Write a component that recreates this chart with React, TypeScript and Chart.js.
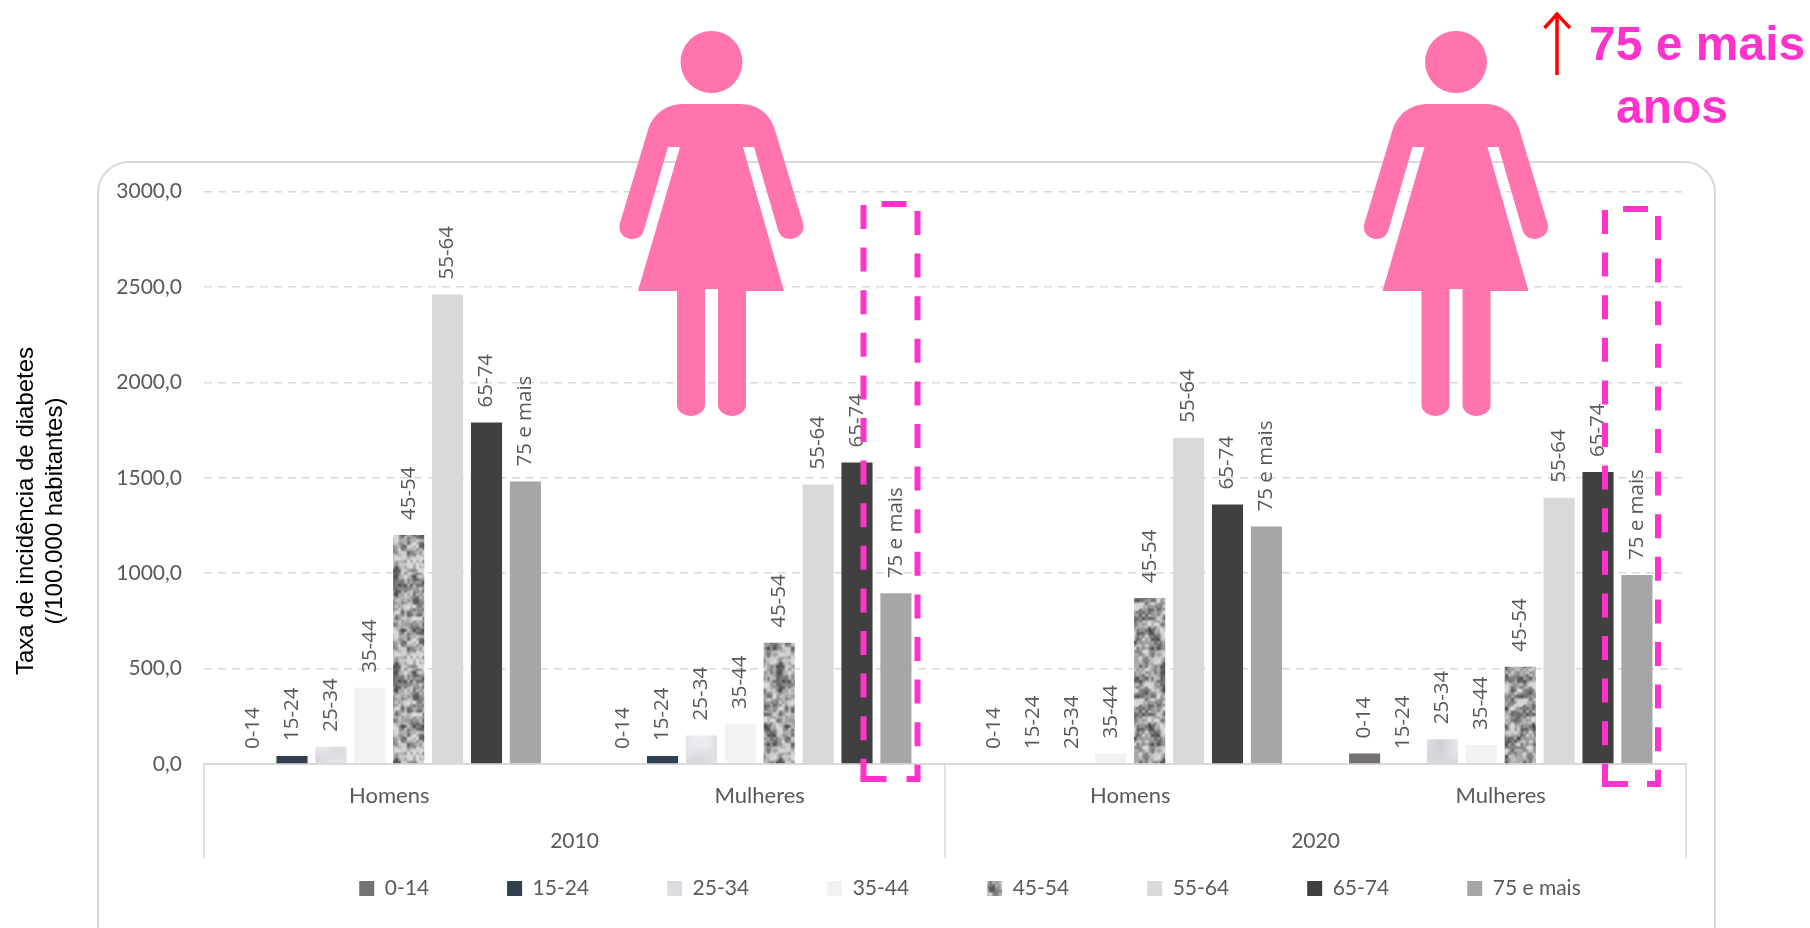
import React, { useEffect, useRef } from "react";
import { Chart, registerables } from "chart.js";

Chart.register(...registerables);

const subgroups = ["Homens", "Mulheres", "Homens", "Mulheres"];
const years = ["2010", "2020"];
const yTicks = [0, 500, 1000, 1500, 2000, 2500, 3000];

const age0014 = [0, 0, 0, 55];
const age1524 = [42, 42, 0, 0];
const age2534 = [90, 150, 0, 130];
const age3544 = [400, 210, 55, 100];
const age4554 = [1200, 635, 870, 510];
const age5564 = [2460, 1465, 1710, 1395];
const age6574 = [1790, 1580, 1360, 1530];
const age7500 = [1480, 895, 1245, 990];

const AXIS = "#d9d9d9";
const TEXT = "#595959";
const PINK = "#ff33cc";
const FIGURE = "#ff74ac";
const SANS = "'Liberation Sans', Arial, sans-serif";

function hash(x: number, y: number, seed: number) {
  const s = Math.sin(x * 127.1 + y * 311.7 + seed * 74.7) * 43758.5453;
  return s - Math.floor(s);
}

function smooth(x: number, y: number, cell: number, period: number, seed: number) {
  const gx = x / cell;
  const gy = y / cell;
  const ix = Math.floor(gx);
  const iy = Math.floor(gy);
  const fx = gx - ix;
  const fy = gy - iy;
  const ux = fx * fx * (3 - 2 * fx);
  const uy = fy * fy * (3 - 2 * fy);
  const w = (a: number) => ((a % period) + period) % period;
  const a = hash(w(ix), w(iy), seed);
  const b = hash(w(ix + 1), w(iy), seed);
  const c = hash(w(ix), w(iy + 1), seed);
  const d = hash(w(ix + 1), w(iy + 1), seed);
  return (a * (1 - ux) + b * ux) * (1 - uy) + (c * (1 - ux) + d * ux) * uy;
}

function texture(kind: "dark" | "light") {
  const size = 96;
  const c = document.createElement("canvas");
  c.width = size;
  c.height = size;
  const ctx = c.getContext("2d")!;
  const img = ctx.createImageData(size, size);
  for (let y = 0; y < size; y++) {
    for (let x = 0; x < size; x++) {
      let v: number;
      if (kind === "dark") {
        const n = 0.6 * smooth(x, y, 6, 16, 1) + 0.4 * smooth(x, y, 3, 32, 2);
        v = Math.max(75, Math.min(215, 158 + (n - 0.5) * 230));
      } else {
        const n = smooth(x, y, 24, 4, 3) * 0.7 + smooth(x, y, 12, 8, 4) * 0.3;
        v = 228 + (n - 0.5) * 50;
      }
      const i = (y * size + x) * 4;
      img.data[i] = v;
      img.data[i + 1] = v;
      img.data[i + 2] = kind === "dark" ? v + 2 : v + 4;
      img.data[i + 3] = 255;
    }
  }
  ctx.putImageData(img, 0, 0);
  return ctx.createPattern(c, "repeat")!;
}

const barLabels = {
  id: "barLabels",
  afterDatasetsDraw(chart: any) {
    const { ctx } = chart;
    ctx.save();
    ctx.font = "20.5px 'Open Sans', sans-serif";
    ctx.fillStyle = TEXT;
    ctx.textAlign = "left";
    ctx.textBaseline = "middle";
    chart.data.datasets.forEach((ds: any, i: number) => {
      chart.getDatasetMeta(i).data.forEach((el: any) => {
        ctx.save();
        ctx.translate(el.x, el.y - 15);
        ctx.rotate(-Math.PI / 2);
        ctx.fillText(ds.label, 0, 0);
        ctx.restore();
      });
    });
    ctx.restore();
  },
};

const separators = {
  id: "separators",
  afterDraw(chart: any) {
    const x2 = chart.scales.x2;
    const { ctx } = chart;
    const top = chart.chartArea.bottom;
    const mid = (x2.left + x2.right) / 2;
    ctx.save();
    ctx.strokeStyle = AXIS;
    ctx.lineWidth = 1.5;
    [x2.left, mid, x2.right].forEach((x: number) => {
      ctx.beginPath();
      ctx.moveTo(x, top);
      ctx.lineTo(x, x2.bottom);
      ctx.stroke();
    });
    ctx.restore();
  },
};

const legendPlace = {
  id: "legendPlace",
  beforeLayout(chart: any) {
    const l = chart.legend;
    if (l && !l.__flat) {
      const fit = l.fit;
      l.fit = function () {
        fit.call(this);
        this.height = 0;
      };
      l.__flat = true;
    }
  },
  afterLayout(chart: any) {
    const l = chart.legend;
    if (!l) return;
    const shift = 65;
    l.left = shift;
    l.right = chart.width + shift;
    l.top = 889 - 11 - l.options.labels.padding;
    l.bottom = chart.height;
    l.width = chart.width;
  },
};

function Figure({ cx }: { cx: number }) {
  const p = (dx: number, y: number) => `${cx + dx} ${y}`;
  const d = [
    `M${p(-28, 104)}`,
    `L${p(28, 104)}`,
    `C${p(46, 104)} ${p(58, 114)} ${p(63, 130)}`,
    `L${p(91, 223)}`,
    `C${p(94, 234)} ${p(84, 239)} ${p(78, 239)}`,
    `C${p(72, 239)} ${p(68, 236)} ${p(66, 230)}`,
    `L${p(42, 147)}`,
    `L${p(31, 147)}`,
    `L${p(72, 291)}`,
    `L${p(34, 291)}`,
    `L${p(34, 405)}`,
    `C${p(34, 412)} ${p(26, 416)} ${p(20, 416)}`,
    `C${p(14, 416)} ${p(6, 412)} ${p(6, 405)}`,
    `L${p(6, 289)}`,
    `L${p(-7, 289)}`,
    `L${p(-7, 405)}`,
    `C${p(-7, 412)} ${p(-15, 416)} ${p(-21, 416)}`,
    `C${p(-27, 416)} ${p(-35, 412)} ${p(-35, 405)}`,
    `L${p(-35, 291)}`,
    `L${p(-74, 291)}`,
    `L${p(-32, 147)}`,
    `L${p(-44, 147)}`,
    `L${p(-68, 230)}`,
    `C${p(-70, 236)} ${p(-74, 239)} ${p(-80, 239)}`,
    `C${p(-86, 239)} ${p(-95, 234)} ${p(-92, 223)}`,
    `L${p(-64, 130)}`,
    `C${p(-59, 114)} ${p(-46, 104)} ${p(-28, 104)}`,
    "Z",
  ].join(" ");
  return (
    <g fill={FIGURE}>
      <circle cx={cx - 0.5} cy={62} r={31} />
      <path d={d} />
    </g>
  );
}

function Box({ x, y, w, h }: { x: number; y: number; w: number; h: number }) {
  return (
    <g fill="none" stroke={PINK} strokeWidth={6}>
      <path d={`M${x} ${y + 1} V${y + h}`} strokeDasharray="24 18.6" />
      <path d={`M${x + w} ${y + 7} V${y + h}`} strokeDasharray="24 18.6" />
      <path d={`M${x + 18} ${y} H${x + 43}`} />
      <path d={`M${x - 3} ${y + h} H${x + 23}`} />
      <path d={`M${x + w - 11} ${y + h} H${x + w + 3}`} />
    </g>
  );
}

export default function App() {
  const ref = useRef<HTMLCanvasElement>(null);

  useEffect(() => {
    const dark = texture("dark");
    const light = texture("light");
    const series: [string, number[], any][] = [
      ["0-14", age0014, "#767171"],
      ["15-24", age1524, "#323f4f"],
      ["25-34", age2534, light],
      ["35-44", age3544, "#f2f2f2"],
      ["45-54", age4554, dark],
      ["55-64", age5564, "#d9d9d9"],
      ["65-74", age6574, "#404040"],
      ["75 e mais", age7500, "#a6a6a6"],
    ];
    const chart = new Chart(ref.current!, {
      type: "bar",
      data: {
        labels: subgroups,
        datasets: series.map(([label, data, color]) => ({
          label,
          data,
          backgroundColor: color,
          categoryPercentage: 0.84,
          barPercentage: 0.8,
        })),
      },
      plugins: [barLabels, separators, legendPlace],
      options: {
        animation: false,
        responsive: false,
        layout: {
          autoPadding: false,
          padding: { top: 191.5, right: 124, bottom: 70, left: 0 },
        },
        plugins: {
          tooltip: { enabled: false },
          legend: {
            position: "bottom",
            labels: {
              boxWidth: 15,
              boxHeight: 15,
              padding: 78,
              color: TEXT,
              font: { family: "Lato", size: 21 },
            },
          },
        },
        scales: {
          x: {
            type: "category",
            offset: true,
            grid: { display: false, drawTicks: false },
            border: { color: AXIS, width: 2 },
            ticks: { color: TEXT, font: { family: "Lato", size: 22 }, padding: 19, maxRotation: 0 },
            afterFit: (s: any) => {
              s.height = 62;
            },
          },
          x2: {
            type: "category",
            position: "bottom",
            labels: years,
            offset: true,
            grid: { display: false, drawTicks: false },
            border: { display: false },
            ticks: { color: TEXT, font: { family: "Lato", size: 21 }, padding: 3, maxRotation: 0 },
            afterFit: (s: any) => {
              s.height = 32;
            },
          },
          y: {
            min: 0,
            max: 3000,
            afterBuildTicks: (s: any) => {
              s.ticks = yTicks.map((value) => ({ value }));
            },
            grid: {
              color: AXIS,
              lineWidth: 1.5,
              drawTicks: false,
            },
            border: { display: false, dash: [8, 6] },
            ticks: {
              color: TEXT,
              font: { family: "Lato", size: 21 },
              padding: 22,
              callback: (v: any) => Number(v).toFixed(1).replace(".", ","),
            },
            afterFit: (s: any) => {
              s.width = 204;
            },
          },
        },
      },
    } as any);
    return () => chart.destroy();
  }, []);

  return (
    <div style={{ position: "fixed", left: 0, top: 0, width: 1810, height: 928, overflow: "hidden", background: "#fff" }}>
      <div
        style={{
          position: "absolute",
          left: 97,
          top: 161,
          width: 1619,
          height: 800,
          border: `2px solid ${AXIS}`,
          borderRadius: 32,
          boxSizing: "border-box",
        }}
      />
      <canvas ref={ref} width={1810} height={928} style={{ position: "absolute", left: 0, top: 0, width: 1810, height: 928 }} />
      <svg width={1810} height={928} style={{ position: "absolute", left: 0, top: 0, pointerEvents: "none" }}>
        <text
          transform="translate(33 511) rotate(-90)"
          textAnchor="middle"
          fontFamily={SANS}
          fontSize={24}
          fill="#000"
        >
          Taxa de incidência de diabetes
        </text>
        <text
          transform="translate(62 511) rotate(-90)"
          textAnchor="middle"
          fontFamily={SANS}
          fontSize={24}
          fill="#000"
        >
          (/100.000 habitantes)
        </text>
        <Figure cx={712} />
        <Figure cx={1456.5} />
        <Box x={863.5} y={204} w={54} h={575} />
        <Box x={1605} y={209} w={53} h={575} />
        <path d="M1557 75 L1557 13 M1544.5 28 L1557 14 L1570 28" fill="none" stroke="#ff0000" strokeWidth={3.5} />
        <text x={1589} y={60} fontFamily={SANS} fontWeight="bold" fontSize={48} fill={PINK}>
          75 e mais
        </text>
        <text x={1616} y={123} fontFamily={SANS} fontWeight="bold" fontSize={48} fill={PINK}>
          anos
        </text>
      </svg>
    </div>
  );
}
